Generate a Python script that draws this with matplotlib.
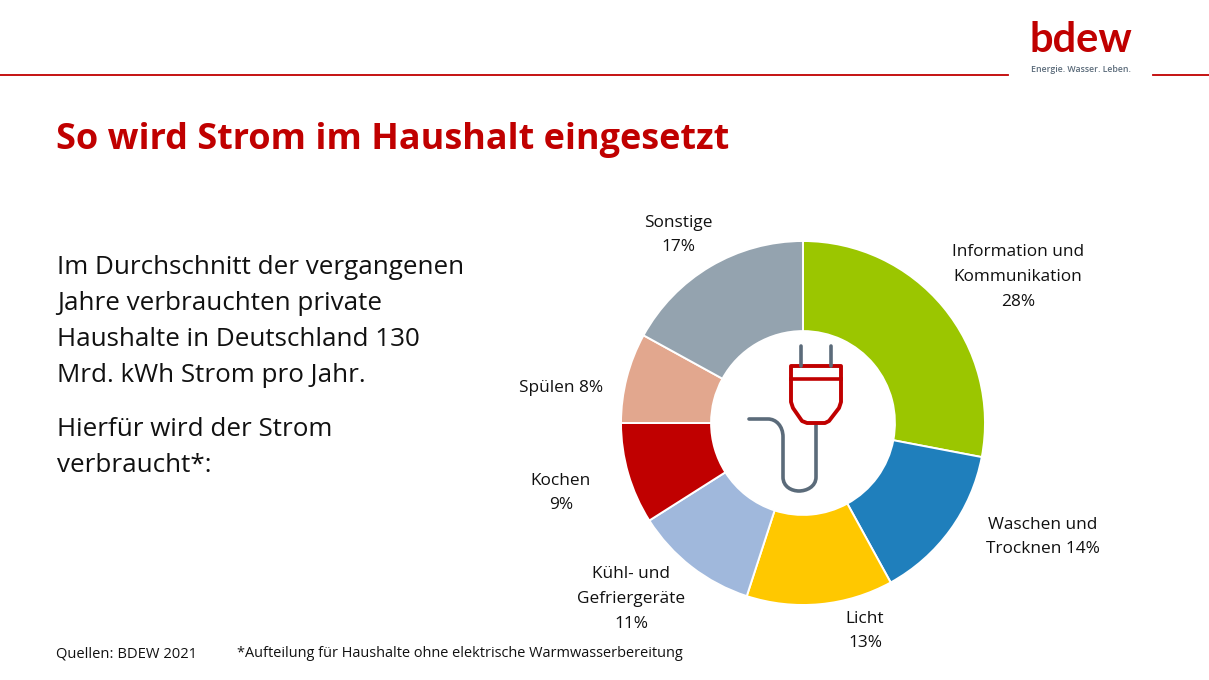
import matplotlib
matplotlib.use("Agg")
import matplotlib.pyplot as plt
from matplotlib.path import Path
from matplotlib.patches import PathPatch

plt.rcParams['font.family'] = ['Open Sans', 'DejaVu Sans']

W, H = 1209, 680
RED = '#C00000'
SLATE = '#5B6B7A'

# values clockwise from the top
shares = [28, 14, 13, 11, 9, 8, 17]
colors = ['#9BC600', '#1F7FBC', '#FFC800', '#A0B8DC', '#C00000', '#E2A78E', '#94A3AF']
labels = ['Information und\nKommunikation\n28%', 'Waschen und\nTrocknen 14%', 'Licht\n13%',
          'Kühl- und\nGefriergeräte\n11%', 'Kochen\n9%', 'Spülen 8%', 'Sonstige\n17%']
label_pos = [(1018, 277), (1043, 537), (865, 631), (631, 599), (561, 493), (561, 388), (678, 235)]

body_lines = ['Im Durchschnitt der vergangenen', 'Jahre verbrauchten private',
              'Haushalte in Deutschland 130', 'Mrd. kWh Strom pro Jahr.']
body_lines2 = ['Hierfür wird der Strom', 'verbraucht*:']

fig = plt.figure(figsize=(W / 100, H / 100), dpi=100, facecolor='white')

# page layer in pixel coordinates
page = fig.add_axes([0, 0, 1, 1])
page.set_xlim(0, W)
page.set_ylim(H, 0)
page.axis('off')

# donut
cx, cy, r = 803, 423, 182
pie_ax = fig.add_axes([(cx - r) / W, 1 - (cy + r) / H, 2 * r / W, 2 * r / H])
pie_ax.pie(shares, colors=colors, startangle=90, counterclock=False, radius=1,
           wedgeprops=dict(width=0.495, edgecolor='white', linewidth=1.4))
pie_ax.set_xlim(-1, 1)
pie_ax.set_ylim(-1, 1)

for lab, (x, y) in zip(labels, label_pos):
    page.text(x, y, lab, ha='center', va='center', fontsize=12.4, color='#111111', linespacing=1.72)

# header rule, broken around the logo
page.plot([0, 1008], [75, 75], color=RED, lw=1.3)
page.plot([1153, W], [75, 75], color=RED, lw=1.3)
page.text(1081, 39.5, 'bdew', ha='center', va='center', fontsize=30, fontweight='bold',
          family=['Lato', 'DejaVu Sans'], color=RED)
page.text(1081, 70, 'Energie. Wasser. Leben.', ha='center', va='center', fontsize=6.3,
          fontweight='semibold', color=SLATE)

page.text(56, 140, 'So wird Strom im Haushalt eingesetzt', ha='left', va='center',
          fontsize=25.9, fontweight='bold', color=RED)

for i, line in enumerate(body_lines):
    page.text(57, 268 + i * 36, line, ha='left', va='center', fontsize=18.7, color='#111111')
for i, line in enumerate(body_lines2):
    page.text(57, 429 + i * 36, line, ha='left', va='center', fontsize=18.7, color='#111111')

page.text(56, 657, 'Quellen: BDEW 2021', ha='left', va='baseline', fontsize=10.6, color='#111111')
page.text(237, 657, '*Aufteilung für Haushalte ohne elektrische Warmwasserbereitung',
          ha='left', va='baseline', fontsize=10.45, color='#111111')

# plug icon on top of the donut hole
icon = fig.add_axes([0, 0, 1, 1], facecolor='none')
icon.set_xlim(0, W)
icon.set_ylim(H, 0)
icon.axis('off')

icon.plot([801, 801], [346, 366], color=SLATE, lw=2.6, solid_capstyle='round')
icon.plot([831, 831], [346, 366], color=SLATE, lw=2.6, solid_capstyle='round')

cable = Path([(816, 423), (816, 477), (816, 487), (806, 491), (799, 491), (792, 491), (783, 487),
              (783, 477), (783, 437), (783, 426), (776, 419), (768, 419), (749, 419)],
             [Path.MOVETO, Path.LINETO, Path.CURVE4, Path.CURVE4, Path.CURVE4, Path.CURVE4, Path.CURVE4,
              Path.CURVE4, Path.LINETO, Path.CURVE4, Path.CURVE4, Path.CURVE4, Path.LINETO])
icon.add_patch(PathPatch(cable, fc='none', ec=SLATE, lw=2.6, capstyle='round'))

plug = Path([(791, 366), (841, 366), (841, 402), (839, 408), (829, 421), (825, 423), (807, 423),
             (802, 421), (793, 408), (791, 402), (791, 366)],
            [Path.MOVETO] + [Path.LINETO] * 9 + [Path.CLOSEPOLY])
icon.add_patch(PathPatch(plug, fc='white', ec=RED, lw=2.8, joinstyle='round'))
icon.plot([791, 841], [379, 379], color=RED, lw=2.6)

fig.savefig('out.png', dpi=100, facecolor='white')
